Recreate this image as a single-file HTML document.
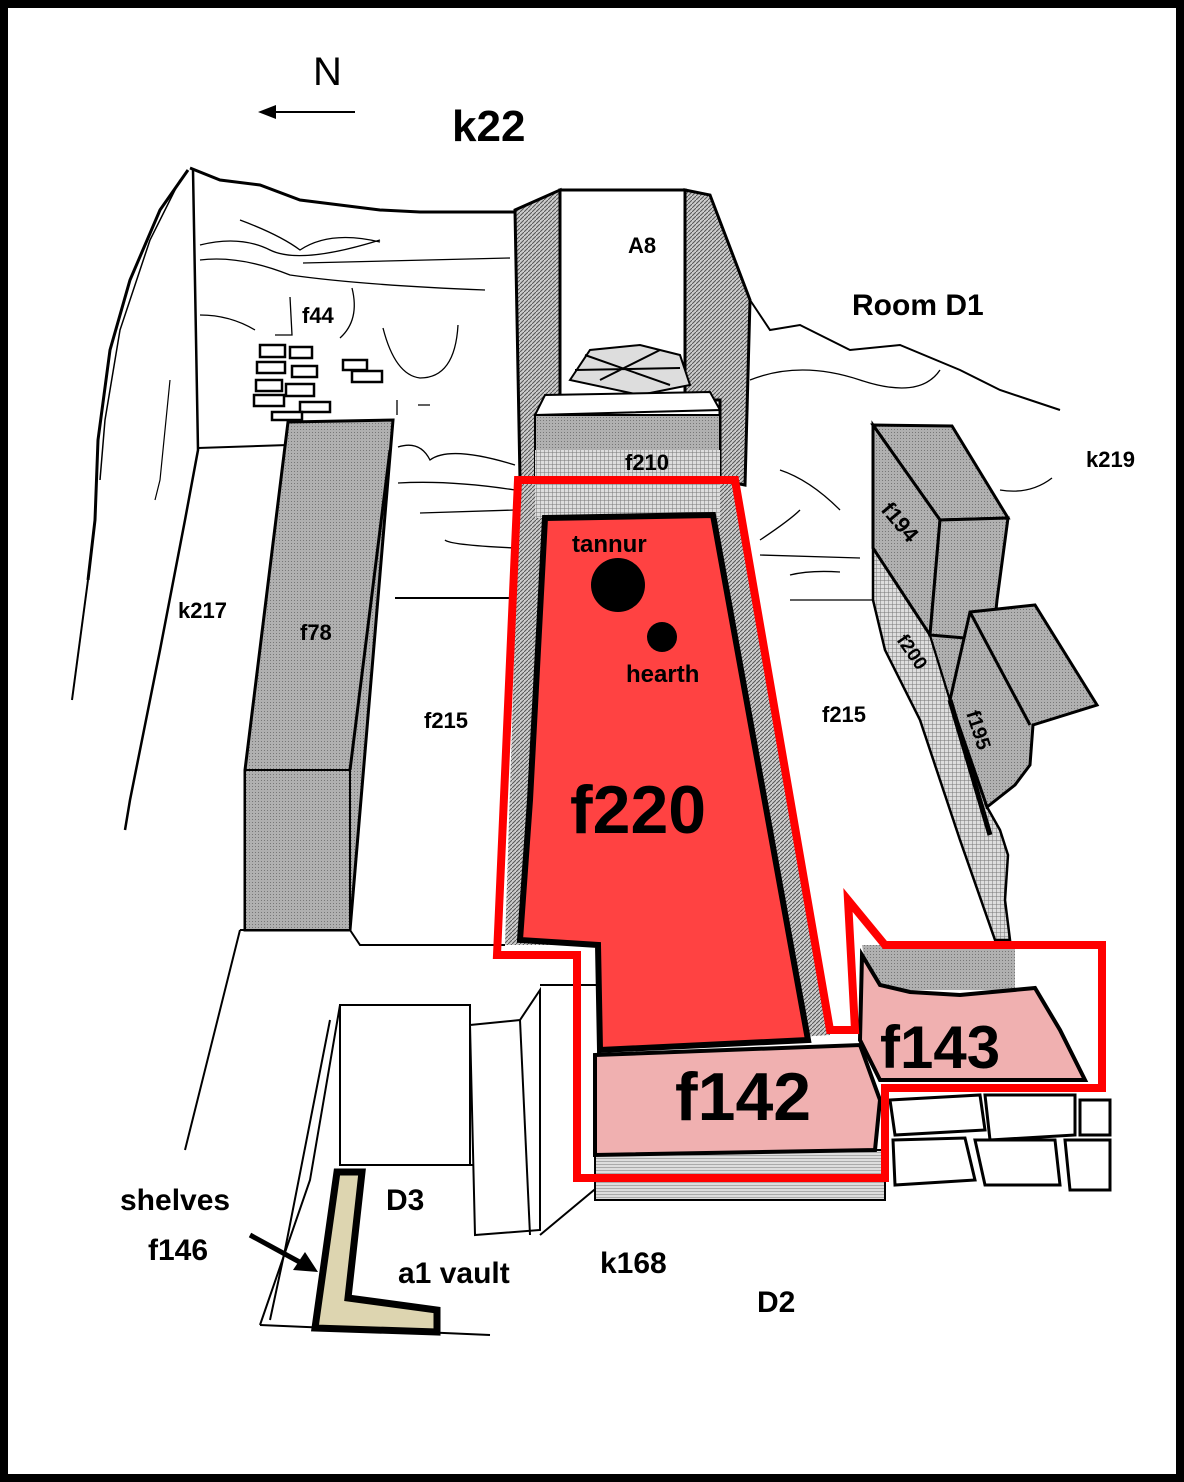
<!DOCTYPE html>
<html><head><meta charset="utf-8"><style>
html,body{margin:0;padding:0;background:#000}
svg{display:block}
text{font-family:"Liberation Sans",Arial,sans-serif;font-weight:bold;fill:#000}
</style></head><body>
<svg width="1184" height="1482" viewBox="0 0 1184 1482" xmlns="http://www.w3.org/2000/svg">
<defs>
<pattern id="h" width="4" height="4" patternUnits="userSpaceOnUse"><rect width="4" height="4" fill="#ccc"/><path d="M0,4L4,0" stroke="#555" stroke-width="1"/></pattern>
<pattern id="x" width="4" height="4" patternUnits="userSpaceOnUse"><rect width="4" height="4" fill="#ddd"/><path d="M0,0L4,0M0,0L0,4" stroke="#777" stroke-width="1"/></pattern>
<pattern id="g" width="3" height="3" patternUnits="userSpaceOnUse"><rect width="3" height="3" fill="#b0b0b0"/><rect width="1" height="1" fill="#777"/></pattern>
<pattern id="s" width="4" height="3" patternUnits="userSpaceOnUse"><rect width="4" height="3" fill="#ddd"/><path d="M0,0L4,0" stroke="#777" stroke-width="1"/></pattern>
</defs>
<rect x="8" y="8" width="1168" height="1466" fill="#fff"/>

<text x="313" y="85" font-size="40" style="font-weight:normal">N</text>
<line x1="355" y1="112" x2="265" y2="112" stroke="#000" stroke-width="2"/>
<path d="M258,112 L276,105 L276,119Z" fill="#000"/>
<text x="452" y="141" font-size="44">k22</text>

<!-- left outline -->
<path d="M190,168 L220,180 L260,185 L300,200 L340,205 L380,210 L420,212 L470,212 L515,212" fill="none" stroke="#000" stroke-width="3"/>
<path d="M188,170 L160,210 L130,280 L110,350 L98,440 L95,520 L88,580" fill="none" stroke="#000" stroke-width="3"/>
<path d="M180,180 L150,240 L120,330 L105,420 L100,480" fill="none" stroke="#000" stroke-width="1.5"/>
<path d="M72,700 L88,580" fill="none" stroke="#000" stroke-width="2"/>
<path d="M193,170 L198,450 L185,520 L160,650 L130,800 L125,830" fill="none" stroke="#000" stroke-width="2.5"/>
<path d="M170,380 L160,480 L155,500" fill="none" stroke="#000" stroke-width="1.2"/>
<line x1="198" y1="448" x2="288" y2="445" stroke="#000" stroke-width="2"/>
<path d="M240,930 L185,1150" fill="none" stroke="#000" stroke-width="2"/>
<path d="M395,598 L515,598" stroke="#000" stroke-width="2"/>
<path d="M350,930 L360,945 L505,945" fill="none" stroke="#000" stroke-width="2"/>
<path d="M240,930 L350,930" stroke="#000" stroke-width="2"/>
<!-- sketch lines -->
<g fill="none" stroke="#000" stroke-width="1.3">
<path d="M240,220 Q280,235 300,250 Q330,230 380,242"/>
<path d="M200,245 Q240,235 270,250 Q300,265 380,240"/>
<path d="M303,263 L510,258"/>
<path d="M200,260 Q240,255 290,275 Q360,285 485,290"/>
<path d="M200,315 Q230,315 255,330"/>
<path d="M290,297 L292,335 L275,335"/>
<path d="M352,288 Q360,320 340,338"/>
<path d="M383,328 Q395,375 420,378 Q455,378 458,325"/>
<path d="M397,400 L397,415 M418,405 L430,405"/>
<path d="M398,447 Q420,440 430,460 Q450,445 515,465"/>
<path d="M398,483 Q450,480 515,490"/>
<path d="M420,513 L515,510"/>
<path d="M445,540 Q450,545 515,548"/>
<path d="M560,330 Q620,310 690,330"/>
<path d="M575,290 Q620,300 680,285"/>
<path d="M750,380 Q800,360 860,380 T940,370"/>
<path d="M780,470 Q810,480 840,510"/>
<path d="M760,540 Q790,520 800,510"/>
<path d="M760,555 L860,558"/>
<path d="M790,575 Q810,570 840,572"/>
<path d="M1000,490 Q1030,495 1052,478"/>
<path d="M790,600 L875,600"/>
</g>
<!-- right outline -->
<path d="M750,300 L770,330 L800,325 L850,350 L900,345 L960,370 L1000,390 L1030,400 L1060,410" fill="none" stroke="#000" stroke-width="2"/>

<!-- bricks f44 -->
<g fill="#fff" stroke="#000" stroke-width="2.5">
<rect x="260" y="345" width="25" height="12"/><rect x="290" y="347" width="22" height="11"/>
<rect x="257" y="362" width="28" height="11"/><rect x="292" y="366" width="25" height="11"/>
<rect x="256" y="380" width="26" height="11"/><rect x="286" y="384" width="28" height="12"/>
<rect x="254" y="395" width="30" height="11"/><rect x="300" y="402" width="30" height="10"/>
<rect x="272" y="412" width="30" height="8"/><rect x="343" y="360" width="24" height="10"/>
<rect x="352" y="371" width="30" height="11"/>
</g>
<text x="302" y="323" font-size="22">f44</text>

<!-- f78 wall -->
<path d="M288,422 L393,420 L350,930 L245,930 L245,770 Z" fill="url(#g)" stroke="#000" stroke-width="3"/>
<path d="M245,770 L350,770 L350,930 L245,930Z" fill="url(#g)" stroke="#000" stroke-width="2"/>
<path d="M350,770 L390,450" fill="none" stroke="#000" stroke-width="3"/>
<text x="300" y="640" font-size="22">f78</text>
<text x="178" y="618" font-size="22">k217</text>
<text x="424" y="728" font-size="22">f215</text>
<text x="822" y="722" font-size="22">f215</text>

<!-- central column -->
<path d="M515,210 L560,190 L560,480 L520,480 Z" fill="url(#h)" stroke="#000" stroke-width="3"/>
<path d="M685,190 L710,195 L750,300 L745,485 L720,480 L720,400 L685,400 Z" fill="url(#h)" stroke="#000" stroke-width="3"/>
<rect x="560" y="190" width="125" height="215" fill="#fff" stroke="#000" stroke-width="3"/>
<text x="628" y="253" font-size="22">A8</text>
<path d="M570,380 L590,350 L640,345 L680,355 L690,385 L640,395Z" fill="#ddd" stroke="#000" stroke-width="2"/>
<path d="M575,370 L680,368 M585,355 L670,385 M600,380 L660,350" stroke="#000" stroke-width="2"/>
<path d="M545,395 L710,392 L720,410 L535,415Z" fill="#fff" stroke="#000" stroke-width="2"/>
<rect x="535" y="415" width="185" height="65" fill="url(#g)" stroke="#000" stroke-width="2"/>
<rect x="535" y="450" width="185" height="30" fill="url(#x)"/>
<text x="625" y="470" font-size="22">f210</text>

<text x="852" y="315" font-size="30">Room D1</text>
<text x="1086" y="467" font-size="22">k219</text>

<!-- right walls -->
<path d="M873,548 L930,635 L950,700 L987,807 L1000,830 L1008,855 L1005,900 L1010,940 L995,940 L960,840 L920,720 L885,650 L873,600Z" fill="url(#x)" stroke="#000" stroke-width="2.5"/>
<path d="M930,635 L965,638 L955,680 L950,700Z" fill="url(#g)" stroke="#000" stroke-width="2"/>
<path d="M873,425 L952,426 L1008,518 L940,520 Z" fill="url(#g)" stroke="#000" stroke-width="3"/>
<path d="M873,425 L940,520 L930,635 L873,548 Z" fill="url(#g)" stroke="#000" stroke-width="3"/>
<path d="M940,520 L1008,518 L997,600 L993,640 L965,638 L930,635Z" fill="url(#g)" stroke="#000" stroke-width="3"/>
<text x="0" y="0" font-size="22" transform="translate(880,510) rotate(50)">f194</text>
<text x="0" y="0" font-size="19" transform="translate(896,640) rotate(55)">f200</text>
<path d="M970,612 L1035,605 L1097,705 L1033,725 L1030,765 L1015,785 L987,807 L950,700 Z" fill="url(#g)" stroke="#000" stroke-width="3"/>
<path d="M970,612 L1030,725" stroke="#000" stroke-width="3"/>
<path d="M950,700 L990,835" stroke="#000" stroke-width="5"/>
<text x="0" y="0" font-size="20" transform="translate(966,713) rotate(72)">f195</text>

<!-- bottom left rooms -->
<path d="M340,1005 L470,1005 L470,1165 L340,1165 Z" fill="#fff" stroke="#000" stroke-width="2"/>
<path d="M340,1005 L310,1180 L260,1325" fill="none" stroke="#000" stroke-width="2"/>
<path d="M330,1020 L285,1250 L270,1320" fill="none" stroke="#000" stroke-width="2"/>
<path d="M340,1165 L480,1165" stroke="#000" stroke-width="2"/>
<path d="M470,1025 L520,1020 L540,990 L540,1230 L475,1235 Z" fill="#fff" stroke="#000" stroke-width="2"/>
<path d="M540,985 L600,985 L600,1185 L540,1235" fill="none" stroke="#000" stroke-width="2"/>
<path d="M520,1020 L530,1235" stroke="#000" stroke-width="2"/>
<path d="M260,1325 L490,1335" stroke="#000" stroke-width="2"/>
<path d="M337,1172 L362,1172 L348,1298 L437,1310 L437,1332 L315,1328 Z" fill="#ddd5b0" stroke="#000" stroke-width="7"/>
<line x1="250" y1="1235" x2="305" y2="1265" stroke="#000" stroke-width="5"/>
<path d="M318,1272 L293,1270 L305,1252Z" fill="#000"/>
<text x="120" y="1210" font-size="30">shelves</text>
<text x="148" y="1260" font-size="30">f146</text>
<text x="386" y="1210" font-size="30">D3</text>
<text x="398" y="1283" font-size="30">a1 vault</text>
<text x="600" y="1273" font-size="30">k168</text>
<text x="757" y="1312" font-size="30">D2</text>

<!-- stones bottom right -->
<g fill="#fff" stroke="#000" stroke-width="3">
<path d="M890,1100 L980,1095 L985,1130 L895,1135Z"/>
<path d="M985,1095 L1075,1095 L1075,1135 L990,1140Z"/>
<path d="M1080,1100 L1110,1100 L1110,1135 L1080,1135Z"/>
<path d="M893,1140 L965,1138 L975,1180 L895,1185Z"/>
<path d="M975,1140 L1055,1140 L1060,1185 L985,1185Z"/>
<path d="M1065,1140 L1110,1140 L1110,1190 L1070,1190Z"/>
</g>
<rect x="595" y="1150" width="290" height="50" fill="url(#s)" stroke="#000" stroke-width="2"/>

<!-- f220 -->
<path d="M520,478 L735,478 L830,1035 L600,1050 L598,945 L505,945 Z" fill="url(#h)"/>
<rect x="535" y="478" width="185" height="40" fill="url(#x)"/>
<path d="M545,518 L713,515 L808,1040 L600,1050 L598,945 L520,940 L530,800 Z" fill="#ff4242" stroke="#000" stroke-width="6"/>
<circle cx="618" cy="585" r="27" fill="#000"/>
<circle cx="662" cy="637" r="15" fill="#000"/>
<text x="572" y="552" font-size="24">tannur</text>
<text x="626" y="682" font-size="24">hearth</text>
<text x="570" y="833" font-size="68">f220</text>
<path d="M595,1055 L860,1045 L880,1100 L875,1150 L595,1155Z" fill="#f0b0b0" stroke="#000" stroke-width="4"/>
<text x="675" y="1120" font-size="68">f142</text>
<path d="M862,945 L1015,945 L1015,990 L870,990Z" fill="url(#g)"/>
<path d="M862,955 L880,985 L910,992 L960,995 L1035,988 L1060,1030 L1085,1080 L880,1080 L860,1040Z" fill="#f0b0b0" stroke="#000" stroke-width="4"/>
<text x="880" y="1068" font-size="60">f143</text>

<!-- red outline -->
<path d="M518,480 L735,480 L830,1030 L855,1030 L848,900 L885,945 L1102,945 L1102,1088 L885,1088 L885,1178 L577,1178 L577,955 L497,955 Z" fill="none" stroke="#f00" stroke-width="8"/>
</svg>
</body></html>
